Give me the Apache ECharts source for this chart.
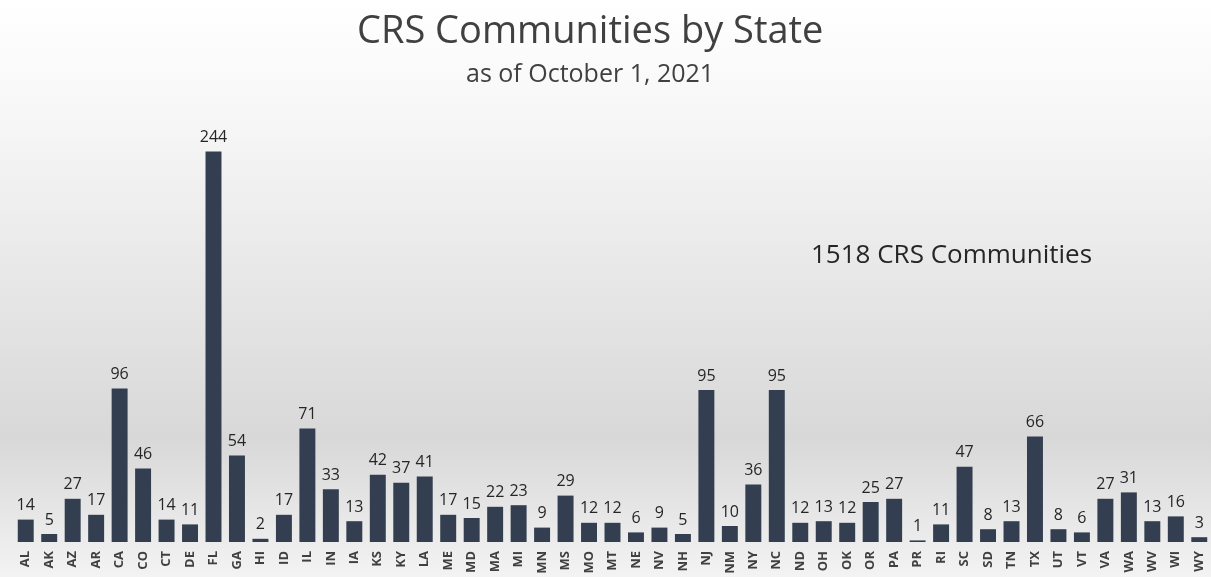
<!DOCTYPE html>
<html>
<head>
<meta charset="utf-8">
<title>CRS Communities by State</title>
<script src="https://cdn.jsdelivr.net/npm/echarts@6/dist/echarts.min.js"></script>
<style>
  html, body { margin: 0; padding: 0; background: #fff; }
  #chart { width: 1211px; height: 577px; }
</style>
</head>
<body>
<div id="chart"></div>
<script>
// States and territories, in the order they appear along the axis
const states = ['AL','AK','AZ','AR','CA','CO','CT','DE','FL','GA','HI','ID','IL','IN','IA','KS','KY','LA',
  'ME','MD','MA','MI','MN','MS','MO','MT','NE','NV','NH','NJ','NM','NY','NC','ND','OH','OK','OR','PA',
  'PR','RI','SC','SD','TN','TX','UT','VT','VA','WA','WV','WI','WY'];

// Number of CRS communities in each state
const communities = [14,5,27,17,96,46,14,11,244,54,2,17,71,33,13,42,37,41,
  17,15,22,23,9,29,12,12,6,9,5,95,10,36,95,12,13,12,25,27,
  1,11,47,8,13,66,8,6,27,31,13,16,3];

const titleText = 'CRS Communities by State';
const subtitleText = 'as of October 1, 2021';
const totalText = '1518 CRS Communities';

const FONT = '"Open Sans", Lato, sans-serif';

const chart = echarts.init(document.getElementById('chart'), null, { renderer: 'canvas' });

chart.setOption({
  backgroundColor: {
    type: 'linear', x: 0, y: 0, x2: 0, y2: 1,
    colorStops: [
      { offset: 0, color: '#ffffff' },
      { offset: 0.2, color: '#f7f7f7' },
      { offset: 0.76, color: '#d8d8d8' },
      { offset: 1, color: '#f3f3f3' }
    ]
  },
  animation: false,
  title: [
    {
      text: titleText,
      left: 352, top: 8,
      textStyle: { fontFamily: FONT, fontSize: 38, fontWeight: 'normal', color: '#404040' }
    },
    {
      text: subtitleText,
      left: 461, top: 57,
      textStyle: { fontFamily: FONT, fontSize: 25, fontWeight: 'normal', color: '#404040' }
    },
    {
      text: totalText,
      left: 806, top: 238,
      textStyle: { fontFamily: FONT, fontSize: 26, fontWeight: 'normal', color: '#262626' }
    }
  ],
  grid: { left: 14, right: -4, top: 62, bottom: 35, containLabel: false },
  xAxis: {
    type: 'category',
    data: states,
    axisLine: { show: false },
    axisTick: { show: false },
    axisLabel: {
      interval: 0, rotate: 90, margin: 9,
      fontFamily: FONT, fontSize: 13, fontWeight: 'bold', color: '#404040'
    }
  },
  yAxis: {
    type: 'value', min: 0, max: 300,
    show: false,
    splitLine: { show: false }
  },
  series: [{
    type: 'bar',
    data: communities,
    barCategoryGap: '32%',
    itemStyle: { color: '#333f50' },
    label: {
      show: true, position: 'top', distance: 6,
      fontFamily: FONT, fontSize: 16, color: '#262626'
    }
  }]
});
</script>
</body>
</html>
